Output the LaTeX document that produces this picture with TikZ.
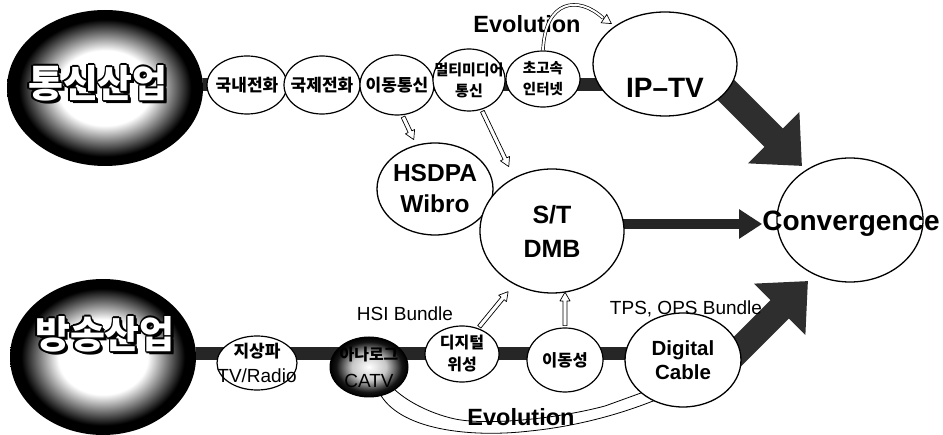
\documentclass[tikz,border=0pt]{standalone}
\usepackage{fontspec}
\setmainfont{Liberation Sans}
\newfontfamily\kr{Noto Sans CJK KR}
\usetikzlibrary{shapes.geometric,shapes.arrows,arrows.meta,calc,backgrounds}
\pgfdeclareradialshading{glow}{\pgfpoint{0bp}{0bp}}{color(0bp)=(white); color(12bp)=(white); color(22bp)=(black); color(25bp)=(black); color(50bp)=(black)}
\pgfdeclareradialshading{glowsmall}{\pgfpoint{0bp}{0bp}}{color(0bp)=(white); color(11bp)=(black!22); color(21bp)=(black!92); color(25bp)=(black); color(50bp)=(black)}
\newcommand\olcopy[3]{\rlap{\hspace*{#1}\raisebox{#2}{\textcolor{black}{#3}}}}
\newcommand\outlinetext[1]{%
 \olcopy{3pt}{-3pt}{#1}\olcopy{2.2pt}{-2.2pt}{#1}%
 \olcopy{-1.6pt}{0pt}{#1}\olcopy{1.6pt}{0pt}{#1}\olcopy{0pt}{1.6pt}{#1}\olcopy{0pt}{-1.6pt}{#1}%
 \olcopy{-1.15pt}{1.15pt}{#1}\olcopy{1.15pt}{1.15pt}{#1}\olcopy{-1.15pt}{-1.15pt}{#1}\olcopy{1.15pt}{-1.15pt}{#1}%
 \textcolor{white}{#1}}
\newcommand\hollow[3]{%
 \path let \p1=($(#3)-(#2)$), \n1={veclen(\x1,\y1)} in (#2) -- node[harr, minimum height=\n1] (#1) {} (#3);}
\tikzset{
 sm/.style={ellipse, draw, line width=1.2pt, fill=white, inner sep=0pt},
 big/.style={ellipse, draw, line width=1.3pt, fill=white, inner sep=0pt},
 kt/.style={font=\kr\bfseries\fontsize{17}{21}\selectfont, align=center, inner sep=0pt},
 lt/.style={font=\fontsize{19}{24}\selectfont, align=center, inner sep=0pt},
 bt/.style={align=center, inner sep=0pt},
 bigkr/.style={font=\kr\bfseries\fontsize{38}{40}\selectfont, inner sep=0pt},
 evol/.style={font=\bfseries\fontsize{23.5}{27}\selectfont, inner sep=0pt},
 bar/.style={line width=13pt, draw=black!85},
 bigarr/.style={line width=26pt, draw=black!82, -{Triangle[length=40pt,width=70pt]}},
 medarr/.style={line width=10pt, draw=black!85, -{Triangle[length=23pt,width=28pt]}},
 harr/.style={single arrow, draw, fill=white, line width=0.7pt, inner xsep=0pt, inner ysep=1.7pt,
   single arrow head extend=3pt, single arrow tip angle=60, sloped, allow upside down},
}
\begin{document}
\begin{tikzpicture}[x=1pt,y=-1pt,line join=round]
\useasboundingbox (0,0) rectangle (943,435);
% top row
\node[big, draw=none, shade, shading=glow, minimum width=196, minimum height=156] (tong) at (105,88) {};
\node[bigkr] (tongt) at (98,84) {\outlinetext{통신산업}};
\node[sm, minimum width=80, minimum height=58, label={[kt]center:국내전화}] (c1) at (247,85) {};
\node[sm, minimum width=76, minimum height=58, label={[kt]center:국제전화}] (c2) at (322,85) {};
\node[sm, minimum width=74, minimum height=60, label={[kt]center:이동통신}] (c3) at (397,85) {};
\node[sm, minimum width=72, minimum height=62, label={[kt, font=\kr\bfseries\fontsize{15}{21}\selectfont]center:{멀티미디어\\통신}}] (c4) at (469,80) {};
\node[sm, minimum width=74, minimum height=56, label={[kt, font=\kr\bfseries\fontsize{14.5}{21}\selectfont]center:{초고속\\인터넷}}] (c5) at (543,79) {};
\node[big, minimum width=144, minimum height=104] (iptv) at (665,64) {};
\node[bt, font=\bfseries\fontsize{28}{31}\selectfont] (iptvt) at (665,88) {IP–TV};
% middle
\node[big, minimum width=116, minimum height=92, label={[bt, font=\bfseries\fontsize{24.5}{31}\selectfont]center:{HSDPA\\Wibro}}] (hsdpa) at (435,189) {};
\node[big, minimum width=144, minimum height=124, label={[bt, font=\bfseries\fontsize{25}{34}\selectfont]center:{S/T\\DMB}}] (st) at (552,231) {};
\node[big, minimum width=146, minimum height=124] (conv) at (850,220) {};
\node[bt, font=\bfseries\fontsize{28}{32}\selectfont] (convt) at (851,224) {Convergence};
% bottom row
\node[big, draw=none, shade, shading=glow, minimum width=186, minimum height=156] (bang) at (103,357) {};
\node[bigkr] (bangt) at (105,335) {\outlinetext{방송산업}};
\node[sm, minimum width=80, minimum height=54, label={[lt, font=\fontsize{19}{25}\selectfont]center:{{\kr\bfseries\fontsize{17}{25}\selectfont 지상파}\\TV/Radio}}] (d1) at (257,363) {};
\node[ellipse, draw, line width=1pt, inner sep=0pt, shade, shading=glowsmall, minimum width=78, minimum height=60, label={[lt, font=\fontsize{19}{27}\selectfont]center:{{\kr\bfseries\fontsize{16}{27}\selectfont 아나로그}\\CATV}}] (d2) at (369,367) {};
\node[sm, minimum width=74, minimum height=56, label={[kt, font=\kr\bfseries\fontsize{16}{22}\selectfont]center:{디지털\\위성}}] (d3) at (462,354) {};
\node[sm, minimum width=76, minimum height=64, label={[kt, font=\kr\bfseries\fontsize{16.5}{20}\selectfont]center:이동성}] (d4) at (565,360) {};
\node[big, minimum width=116, minimum height=94, label={[bt, font=\bfseries\fontsize{20.5}{24}\selectfont]center:{Digital\\Cable}}] (dc) at (683,360) {};
% texts
\node[lt] (hsi) at (405,314) {HSI Bundle};
\node[lt] (tps) at (686,309) {TPS, OPS Bundle};
\node[evol] (ev1) at (527,24) {Evolution};
\node[evol] (ev2) at (521,417) {Evolution};
% hollow arrows
\coordinate (a1e) at (413,138);
\coordinate (a2e) at (508,165);
\coordinate (a3e) at (507,293);
\coordinate (a4e) at (565,294);
\hollow{h1}{c3.-80}{a1e}
\hollow{h2}{c4.-67}{a2e}
\hollow{h3}{d3.58}{a3e}
\hollow{h4}{d4.north}{a4e}
% top evolution arrow
\coordinate (e1e) at (603,18);
\coordinate (e1t) at (612,24);
\draw[double=white, double distance=2pt, line width=0.7pt] (c5.north) .. controls (545,0) and (578,-5) .. (e1e);
\draw[line width=0.7pt, -{Triangle[fill=white, length=10pt, width=11pt]}] (e1e) -- (e1t);
% background layer
\coordinate (bb) at (300,354);
\coordinate (t1) at (802,166);
\coordinate (t2) at (808,281);
\begin{pgfonlayer}{background}
\fill[white] (0,0) rectangle (943,435);
\draw[bar] (tong.center |- c1.center) -- (iptv.center |- c1.center);
\draw[bar] (bang.center |- bb) -- (dc.center |- bb);
\draw[bigarr] ($(iptv.center)+(35,0)$) -- (t1);
\draw[bigarr] ($(dc.center)+(25,21)$) -- (t2);
\draw[medarr] (st.center |- convt.west) -- (convt.west);
\draw[line width=0.8pt, fill=white] (379,392) .. controls (398,430) and (470,438) .. (530,431)
  .. controls (580,426) and (630,412) .. (672,393) -- (652,389) -- (605,406)
  .. controls (560,418) and (490,426) .. (455,419) .. controls (428,413) and (405,400) .. (393,388) -- cycle;
\end{pgfonlayer}
\end{tikzpicture}
\end{document}
